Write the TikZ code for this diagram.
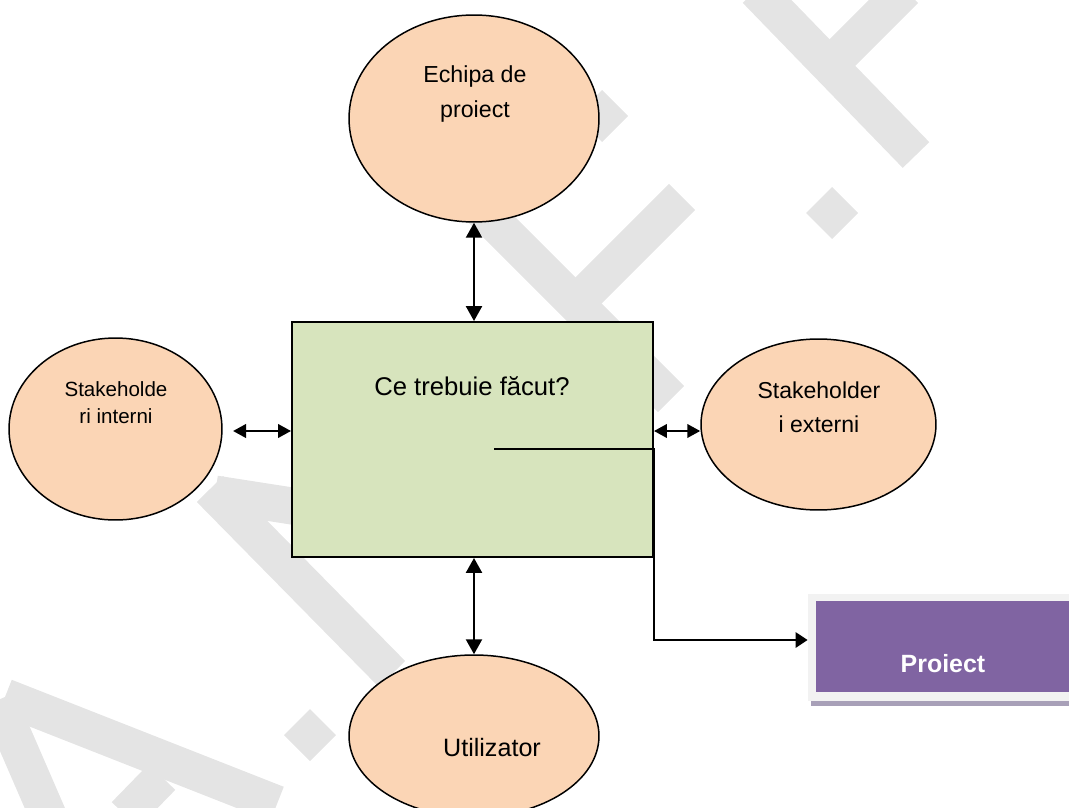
\documentclass[tikz,border=0pt]{standalone}
\usepackage{fontspec}
\setmainfont{Liberation Sans}
\usetikzlibrary{shapes.geometric,arrows.meta}
\definecolor{piersica}{RGB}{251,213,181}
\definecolor{verde}{RGB}{215,228,189}
\definecolor{mov}{RGB}{128,100,162}
\definecolor{movumbra}{RGB}{168,160,184}
\definecolor{ramagri}{RGB}{242,242,242}
\definecolor{filigran}{RGB}{228,228,228}

\begin{document}
\begin{tikzpicture}[x=0.02cm, y=0.02cm,
  elipsa/.style={ellipse, draw=black, line width=0.85pt, fill=piersica, inner sep=0pt},
  cutie/.style={rectangle, draw=black, line width=1.1pt, fill=verde, inner sep=0pt},
  dublu/.style={line width=1.5pt, {Triangle[length=8.5pt,width=9pt]}-{Triangle[length=8.5pt,width=9pt]}},
  scurt/.style={line width=1.5pt, {Triangle[length=7.4pt,width=7.6pt]}-{Triangle[length=7.4pt,width=7.6pt]}},
  iesire/.style={line width=1.5pt, -{Triangle[length=6.8pt,width=8.5pt]}},
  banda/.style={draw=filigran, line width=0.74cm}]
\tikzstyle{every node}+=[inner sep=0pt]
\useasboundingbox (0,0) rectangle (1069,-808);
\clip (0,0) rectangle (1069,-808);
% filigran
\foreach \a/\b/\c/\d in {210/489/392/674, 215/494/510/540, 5/697/277/804,
  -2/700/50/820, 162/777/125/815, 756/-10/916/155, 905/-10/826/69,
  682/197/575/304, 455/183/671/399}
  \draw [banda] (\a,-\b) -- (\c,-\d);
\foreach \x/\y in {310/735, 832/213, 602/116}
  \fill [filigran] (\x,{-\y+26}) -- ({\x+26},-\y) -- (\x,{-\y-26}) -- ({\x-26},-\y) -- cycle;
% noduri
\node [elipsa, minimum width=5cm, minimum height=4.14cm] (echipa) at (474,-118.5) {};
\node [align=center, font=\fontsize{13.2}{19.8}\selectfont] (techipa) at (475,-94) {Echipa de\\proiect};
\node [elipsa, minimum width=4.26cm, minimum height=3.64cm] (interni) at (115.5,-429) {};
\node [align=center, font=\fontsize{11.7}{15.3}\selectfont] (tinterni) at (116,-403) {Stakeholde\\ri interni};
\node [elipsa, minimum width=4.7cm, minimum height=3.42cm] (externi) at (818.5,-424.5) {};
\node [align=center, font=\fontsize{13.1}{19.3}\selectfont] (texterni) at (819,-407) {Stakeholder\\i externi};
\node [elipsa, minimum width=5cm, minimum height=3.24cm] (util) at (474,-736) {};
\node [anchor=base, font=\fontsize{14.3}{17}\selectfont] (tutil) at (492,-756) {Utilizator};
\node [cutie, minimum width=7.22cm, minimum height=4.7cm] (kern) at (472.5,-439.5) {};
\node [anchor=base, font=\fontsize{14.6}{17}\selectfont] (tkern) at (472,-395) {Ce trebuie făcut?};
\node [fill=ramagri, minimum width=5.44cm, minimum height=2.14cm] (rama) at (944,-647.5) {};
\fill [movumbra] ([xshift=0.06cm]rama.south west) rectangle ([yshift=-0.1cm]rama.south east);
\node [fill=mov, minimum width=5.28cm, minimum height=1.82cm] (proiect) at (948,-646.5) {};
\node [anchor=base, text=white, font=\fontsize{14.2}{17}\selectfont\bfseries] (tproiect) at (943,-672) {Proiect};
% legaturi
\coordinate (st) at (233,-431);
\coordinate (os) at (494,-449);
\draw [dublu] (echipa.south) -- (echipa.south |- kern.north);
\draw [dublu] (kern.south -| util.north) -- (util.north);
\draw [scurt] (st) -- (st -| kern.west);
\draw [scurt] (st -| kern.east) -- (st -| externi.west);
\draw [iesire] (os) -- (os -| kern.east) |- ([yshift=0.15cm]rama.west);
\end{tikzpicture}
\end{document}
